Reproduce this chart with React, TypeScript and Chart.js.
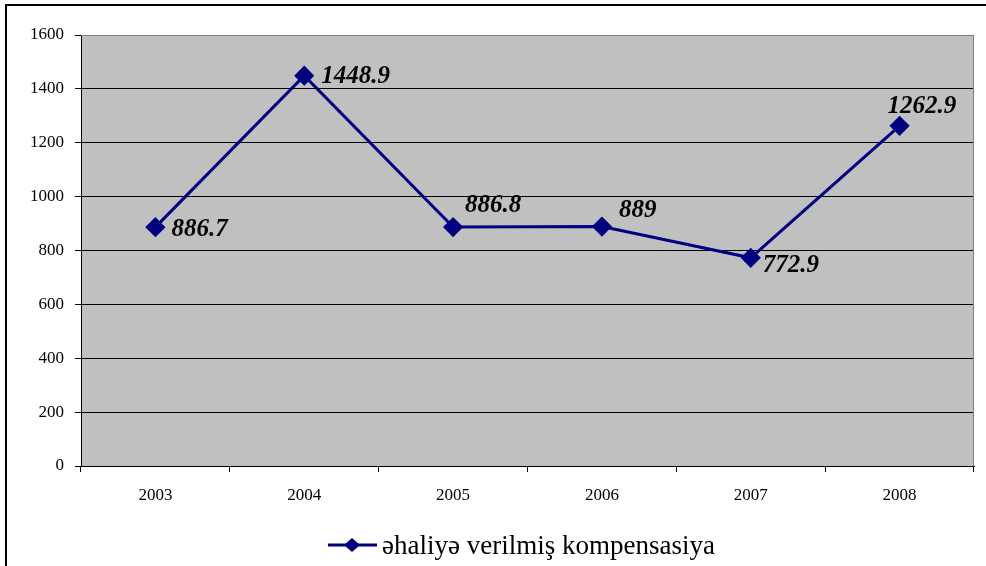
import React, { useEffect, useRef } from "react";
import { Chart, registerables } from "chart.js";

Chart.register(...registerables);

const years = ["2003", "2004", "2005", "2006", "2007", "2008"];
const compensation = [886.7, 1448.9, 886.8, 889, 772.9, 1262.9];
const valueLabels = ["886.7", "1448.9", "886.8", "889", "772.9", "1262.9"];
const seriesName = "əhaliyə verilmiş kompensasiya";
// label offsets (left-aligned text start relative to point, vertical center)
const labelOffsets = [
  [16, 2],
  [17, 1],
  [12, -22],
  [17, -16],
  [12, 8],
  [-12, -19],
];

const FONT = "'Liberation Serif', 'Times New Roman', serif";
const LINE = "#000080";

export default function App() {
  const ref = useRef<HTMLCanvasElement | null>(null);
  useEffect(() => {
    const canvas = ref.current!;
    const decor = {
      id: "decor",
      beforeDraw(chart: any) {
        const { ctx, chartArea: a } = chart;
        ctx.save();
        ctx.fillStyle = "#ffffff";
        ctx.fillRect(0, 0, chart.width, chart.height);
        ctx.fillStyle = "#c0c0c0";
        ctx.fillRect(a.left, a.top, a.right - a.left, a.bottom - a.top);
        ctx.restore();
      },
      afterDatasetsDraw(chart: any) {
        const { ctx, chartArea: a } = chart;
        ctx.save();
        ctx.strokeStyle = "#808080";
        ctx.lineWidth = 1;
        ctx.beginPath();
        ctx.moveTo(a.left, a.top + 0.5);
        ctx.lineTo(a.right - 0.5, a.top + 0.5);
        ctx.lineTo(a.right - 0.5, a.bottom);
        ctx.stroke();
        ctx.strokeStyle = "#000000";
        ctx.lineWidth = 2;
        ctx.strokeRect(6, 5, chart.width + 10, chart.height + 10);
        const meta = chart.getDatasetMeta(0);
        ctx.fillStyle = "#000000";
        ctx.font = `italic bold 25px ${FONT}`;
        ctx.textAlign = "left";
        ctx.textBaseline = "middle";
        meta.data.forEach((pt: any, i: number) => {
          const [dx, dy] = labelOffsets[i];
          ctx.fillText(valueLabels[i], pt.x + dx, pt.y + dy);
        });
        const ly = 545;
        const lx = 328;
        ctx.strokeStyle = LINE;
        ctx.lineWidth = 3;
        ctx.beginPath();
        ctx.moveTo(lx, ly);
        ctx.lineTo(lx + 49, ly);
        ctx.stroke();
        ctx.fillStyle = LINE;
        ctx.beginPath();
        const cx = lx + 24;
        ctx.moveTo(cx, ly - 7);
        ctx.lineTo(cx + 8, ly);
        ctx.lineTo(cx, ly + 7);
        ctx.lineTo(cx - 8, ly);
        ctx.closePath();
        ctx.fill();
        ctx.fillStyle = "#000000";
        ctx.font = `27px ${FONT}`;
        ctx.textBaseline = "middle";
        ctx.fillText(seriesName, 382, 547);
        ctx.restore();
      },
    };
    const chart = new Chart(canvas, {
      type: "line",
      data: {
        labels: years,
        datasets: [
          {
            label: seriesName,
            data: compensation,
            borderColor: LINE,
            backgroundColor: LINE,
            borderWidth: 3,
            pointStyle: "rectRot",
            pointRadius: 8,
            pointHoverRadius: 8,
            pointBackgroundColor: LINE,
            pointBorderColor: LINE,
            tension: 0,
          },
        ],
      },
      options: {
        animation: false,
        responsive: false,
        layout: { padding: { top: 35, right: 12, left: 0, bottom: 0 } },
        plugins: { legend: { display: false }, tooltip: { enabled: false } },
        scales: {
          x: {
            offset: true,
            grid: {
              offset: true,
              drawOnChartArea: false,
              drawTicks: true,
              tickLength: 6,
              color: "#000000",
            },
            border: { color: "#000000", width: 1 },
            ticks: {
              color: "#000000",
              font: { family: FONT, size: 17 },
              padding: 13,
              maxRotation: 0,
            },
            afterFit(s: any) {
              s.height = 100;
            },
          },
          y: {
            min: 0,
            max: 1600,
            grid: { color: "#000000", lineWidth: 1, tickLength: 6 },
            border: { color: "#000000", width: 1 },
            ticks: {
              stepSize: 200,
              color: "#000000",
              font: { family: FONT, size: 17 },
              padding: 11,
              callback: (v: any) => String(v),
            },
            afterFit(s: any) {
              s.width = 81;
            },
          },
        },
      },
      plugins: [decor],
    });
    return () => chart.destroy();
  }, []);
  return (
    <div style={{ position: "fixed", left: 0, top: 0, width: 986, height: 566 }}>
      <canvas ref={ref} width={986} height={566} style={{ width: 986, height: 566 }} />
    </div>
  );
}
